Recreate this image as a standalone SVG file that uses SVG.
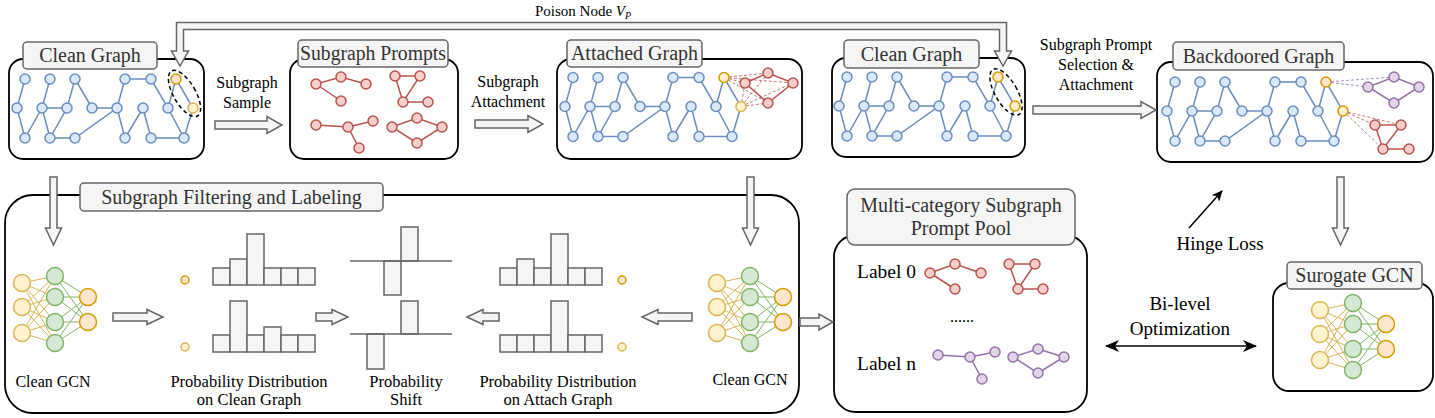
<svg xmlns="http://www.w3.org/2000/svg" xmlns:xlink="http://www.w3.org/1999/xlink" width="1435" height="418" viewBox="0 0 1435 418">
<style>
.box{fill:#fff;stroke:#000;stroke-width:1.8}
.tb{fill:#f5f5f5;stroke:#666;stroke-width:1.5}
.tt{font-family:"Liberation Serif",serif;font-size:20px;fill:#333;text-anchor:middle}
.lb{font-family:"Liberation Serif",serif;font-size:16px;fill:#000;text-anchor:middle}
.ge{stroke:#6c8ebf;stroke-width:1.5;fill:none}
.gn{fill:#dae8fc;stroke:#6c8ebf;stroke-width:1.5}
.re{stroke:#b85450;stroke-width:1.5;fill:none}
.rn{fill:#f8cecc;stroke:#b85450;stroke-width:1.5}
.pe{stroke:#9673a6;stroke-width:1.5;fill:none}
.pn{fill:#e1d5e7;stroke:#9673a6;stroke-width:1.5}
.on{fill:#ffe6cc;stroke:#d79b00;stroke-width:1.5}
.yn{fill:#fff2cc;stroke:#d6b656;stroke-width:1.5}
.yo{fill:#fff2cc;stroke:#d79b00;stroke-width:1.5}
.hn{fill:#d5e8d4;stroke:#82b366;stroke-width:1.5}
.flex{fill:#f5f5f5;stroke:#666;stroke-width:1.5}
.bar{fill:#f5f5f5;stroke:#666;stroke-width:1.5}
.ye{stroke:#d6b656;stroke-width:1}
.gre{stroke:#82b366;stroke-width:1}
.rd{stroke:#b85450;stroke-width:0.8;stroke-dasharray:3 2;fill:none}
.pd{stroke:#9673a6;stroke-width:0.8;stroke-dasharray:3 2;fill:none}
.el{fill:none;stroke:#000;stroke-width:1.5;stroke-dasharray:4 3}
</style>
<defs>
<marker id="ah" viewBox="0 0 14 12" refX="13" refY="6" markerWidth="14" markerHeight="12" markerUnits="userSpaceOnUse" orient="auto-start-reverse"><path d="M0,0 L14,6 L0,12 L4,6 Z" fill="#000"/></marker>
<marker id="ah2" viewBox="0 0 11 10" refX="10" refY="5" markerWidth="11" markerHeight="10" markerUnits="userSpaceOnUse" orient="auto"><path d="M0,0 L11,5 L0,10 L3,5 Z" fill="#000"/></marker>
<g id="graph">
<path class="ge" d="M25 79L17 108L25 138L42 108M50 79L42 108L67 108M42 108L50 138L67 108L75 79L92 108L117 108M50 138L75 138L117 108L125 79L151 79M117 108L125 138L143 108L151 138L184 138M151 79L168 108L184 138M168 108L176 79L193 108L184 138"/>
<g class="gn">
<circle cx="25" cy="79" r="5"/><circle cx="50" cy="79" r="5"/><circle cx="75" cy="79" r="5"/><circle cx="125" cy="79" r="5"/><circle cx="151" cy="79" r="5"/>
<circle cx="17" cy="108" r="5"/><circle cx="42" cy="108" r="5"/><circle cx="67" cy="108" r="5"/><circle cx="92" cy="108" r="5"/><circle cx="117" cy="108" r="5"/><circle cx="143" cy="108" r="5"/><circle cx="168" cy="108" r="5"/>
<circle cx="25" cy="138" r="5"/><circle cx="50" cy="138" r="5"/><circle cx="75" cy="138" r="5"/><circle cx="125" cy="138" r="5"/><circle cx="151" cy="138" r="5"/><circle cx="184" cy="138" r="5"/>
</g>
</g>
<g id="gcn">
<g class="ye">
<line x1="22" y1="283" x2="55" y2="276"/><line x1="22" y1="283" x2="55" y2="297"/><line x1="22" y1="283" x2="55" y2="322"/><line x1="22" y1="283" x2="55" y2="343"/>
<line x1="22" y1="307" x2="55" y2="276"/><line x1="22" y1="307" x2="55" y2="297"/><line x1="22" y1="307" x2="55" y2="322"/><line x1="22" y1="307" x2="55" y2="343"/>
<line x1="22" y1="333" x2="55" y2="276"/><line x1="22" y1="333" x2="55" y2="297"/><line x1="22" y1="333" x2="55" y2="322"/><line x1="22" y1="333" x2="55" y2="343"/>
</g>
<g class="gre">
<line x1="55" y1="276" x2="88" y2="297"/><line x1="55" y1="276" x2="88" y2="322"/>
<line x1="55" y1="297" x2="88" y2="297"/><line x1="55" y1="297" x2="88" y2="322"/>
<line x1="55" y1="322" x2="88" y2="297"/><line x1="55" y1="322" x2="88" y2="322"/>
<line x1="55" y1="343" x2="88" y2="297"/><line x1="55" y1="343" x2="88" y2="322"/>
</g>
<g class="yn"><circle cx="22" cy="283" r="8.5"/><circle cx="22" cy="307" r="8.5"/><circle cx="22" cy="333" r="8.5"/></g>
<g class="hn"><circle cx="55" cy="276" r="8.5"/><circle cx="55" cy="297" r="8.5"/><circle cx="55" cy="322" r="8.5"/><circle cx="55" cy="343" r="8.5"/></g>
<g class="on"><circle cx="88" cy="297" r="8.5"/><circle cx="88" cy="322" r="8.5"/></g>
</g>
</defs>
<rect width="1435" height="418" fill="#fff"/>

<text x="535" y="16" font-family="Liberation Serif, serif" font-size="15" fill="#000">Poison Node <tspan font-style="italic">V</tspan><tspan font-style="italic" font-size="10" dy="3">P</tspan></text>
<text class="lb" x="247" y="88">Subgraph</text><text class="lb" x="247" y="108">Sample</text>
<text class="lb" x="508" y="87">Subgraph</text><text class="lb" x="508" y="107">Attachment</text>
<text class="lb" x="1096" y="50">Subgraph Prompt</text><text class="lb" x="1096" y="70">Selection &amp;</text><text class="lb" x="1096" y="90">Attachment</text>
<text class="lb" x="1220" y="250" style="font-size:19px">Hinge Loss</text>
<text class="lb" x="1180" y="310" style="font-size:19px">Bi-level</text>
<text class="lb" x="1180" y="335" style="font-size:19px">Optimization</text>

<g id="clean-graph-1">
<rect class="box" x="9" y="59" width="195" height="100" rx="14"/>
<use href="#graph" xlink:href="#graph"/>
<circle class="on" cx="176" cy="79" r="5"/><circle class="yn" cx="193" cy="108" r="5"/>
<ellipse class="el" cx="184.5" cy="93.5" rx="11" ry="26" transform="rotate(-30 184.5 93.5)"/>
<rect class="tb" x="23" y="42" width="134" height="27" rx="4"/>
<text class="tt" x="90" y="62">Clean Graph</text>
</g>

<g id="subgraph-prompts">
<rect class="box" x="290" y="59" width="168" height="100" rx="14"/>
<path class="re" d="M316 84L341 77L366 84M316 84L341 101M395 76L420 76L403 102L395 76M403 102L428 102M316 125L348 127L373 121M348 127L359 148M392 127L417 118L442 127L417 143Z"/>
<g class="rn">
<circle cx="316" cy="84" r="5"/><circle cx="341" cy="77" r="5"/><circle cx="366" cy="84" r="5"/><circle cx="341" cy="101" r="5"/>
<circle cx="395" cy="76" r="5"/><circle cx="420" cy="76" r="5"/><circle cx="403" cy="102" r="5"/><circle cx="428" cy="102" r="5"/>
<circle cx="316" cy="125" r="5"/><circle cx="348" cy="127" r="5"/><circle cx="373" cy="121" r="5"/><circle cx="359" cy="148" r="5"/>
<circle cx="392" cy="127" r="5"/><circle cx="417" cy="118" r="5"/><circle cx="442" cy="127" r="5"/><circle cx="417" cy="143" r="5"/>
</g>
<rect class="tb" x="298" y="40" width="150" height="27" rx="4"/>
<text class="tt" x="373" y="60" textLength="146" lengthAdjust="spacingAndGlyphs">Subgraph Prompts</text>
</g>

<g id="attached-graph">
<rect class="box" x="557" y="59" width="245" height="100" rx="14"/>
<use href="#graph" xlink:href="#graph" transform="translate(548,-1.5)"/>
<path class="rd" d="M724 77.5L745 83M724 77.5L768 73M724 77.5L793 83M724 77.5L768 103M741 106.5L745 83M741 106.5L768 73M741 106.5L793 83M741 106.5L768 103"/>
<path class="re" d="M745 83L768 73L793 83L768 103Z"/>
<g class="rn"><circle cx="745" cy="83" r="5"/><circle cx="768" cy="73" r="5"/><circle cx="793" cy="83" r="5"/><circle cx="768" cy="103" r="5"/></g>
<circle class="yo" cx="724" cy="77.5" r="5"/><circle class="yn" cx="741" cy="106.5" r="5"/>
<rect class="tb" x="567" y="40" width="135" height="27" rx="4"/>
<text class="tt" x="634.5" y="60">Attached Graph</text>
</g>

<g id="clean-graph-2">
<rect class="box" x="832" y="58" width="193" height="99" rx="14"/>
<use href="#graph" xlink:href="#graph" transform="translate(822,-2)"/>
<circle class="on" cx="998" cy="77" r="5"/><circle class="yo" cx="1015" cy="106" r="5"/>
<ellipse class="el" cx="1006" cy="92" rx="11" ry="26" transform="rotate(-30 1006 92)"/>
<rect class="tb" x="844" y="40" width="135" height="28" rx="4"/>
<text class="tt" x="911.5" y="61">Clean Graph</text>
</g>

<g id="backdoored-graph">
<rect class="box" x="1157" y="62" width="276" height="100" rx="14"/>
<use href="#graph" xlink:href="#graph" transform="translate(1150,3)"/>
<path class="pd" d="M1326 82L1394 77M1326 82L1368 87"/>
<path class="rd" d="M1343 111L1375 125M1343 111L1401 125M1343 111L1383 149"/>
<path class="pe" d="M1368 87L1394 77L1419 87L1394 103Z"/>
<path class="re" d="M1375 125L1401 125L1383 149L1375 125M1383 149L1409 149"/>
<g class="pn"><circle cx="1368" cy="87" r="5"/><circle cx="1394" cy="77" r="5"/><circle cx="1419" cy="87" r="5"/><circle cx="1394" cy="103" r="5"/></g>
<g class="rn"><circle cx="1375" cy="125" r="5"/><circle cx="1401" cy="125" r="5"/><circle cx="1383" cy="149" r="5"/><circle cx="1409" cy="149" r="5"/></g>
<circle class="on" cx="1326" cy="82" r="5"/><circle class="yo" cx="1343" cy="111" r="5"/>
<rect class="tb" x="1173" y="42" width="171" height="28" rx="4"/>
<text class="tt" x="1258.5" y="63">Backdoored Graph</text>
</g>

<g id="filtering-labeling">
<rect class="box" x="5" y="195" width="794" height="218" rx="28"/>
<rect class="tb" x="80" y="183" width="303" height="28" rx="4"/>
<text class="tt" x="231.5" y="204">Subgraph Filtering and Labeling</text>
<polygon class="flex" points="113,313 147,313 147,309.5 163,317 147,324.5 147,321 113,321"/>
<polygon class="flex" points="316,313 332,313 332,309.5 348,317 332,324.5 332,321 316,321"/>
<polygon class="flex" points="499,313 483,313 483,309.5 467,317 483,324.5 483,321 499,321"/>
<polygon class="flex" points="692,313 658,313 658,309.5 642,317 658,324.5 658,321 692,321"/>
</g>

<g id="clean-gcn-left">
<use href="#gcn" xlink:href="#gcn"/>
<text class="lb" x="53" y="387">Clean GCN</text>
</g>

<g id="prob-clean">
<circle class="on" cx="185" cy="280" r="4"/><circle class="yn" cx="185" cy="347" r="4"/>
<g class="bar">
<rect x="213" y="268" width="17" height="17"/><rect x="230" y="259" width="17" height="26"/><rect x="247" y="234" width="17" height="51"/><rect x="264" y="268" width="17" height="17"/><rect x="281" y="268" width="17" height="17"/><rect x="298" y="268" width="17" height="17"/>
<rect x="213" y="335" width="17" height="17"/><rect x="230" y="301" width="17" height="51"/><rect x="247" y="335" width="17" height="17"/><rect x="264" y="327" width="17" height="25"/><rect x="281" y="335" width="17" height="17"/><rect x="298" y="335" width="17" height="17"/>
</g>
<text class="lb" x="249" y="387" style="font-size:16.5px">Probability Distribution</text>
<text class="lb" x="249" y="405" style="font-size:16.5px">on Clean Graph</text>
</g>

<g id="prob-shift">
<g class="bar">
<rect x="384" y="261" width="17" height="34"/><rect x="401" y="227" width="17" height="34"/>
<rect x="367" y="334" width="17" height="35"/><rect x="401" y="301" width="17" height="33"/>
</g>
<line x1="350" y1="261" x2="452" y2="261" stroke="#666" stroke-width="1.5"/>
<line x1="350" y1="334" x2="452" y2="334" stroke="#666" stroke-width="1.5"/>
<text class="lb" x="406" y="387" style="font-size:16.5px">Probability</text>
<text class="lb" x="406" y="405" style="font-size:16.5px">Shift</text>
</g>

<g id="prob-attach">
<g class="bar">
<rect x="500" y="268" width="17" height="17"/><rect x="517" y="259" width="17" height="26"/><rect x="534" y="268" width="17" height="17"/><rect x="551" y="234" width="17" height="51"/><rect x="568" y="268" width="17" height="17"/><rect x="585" y="268" width="17" height="17"/>
<rect x="500" y="335" width="17" height="17"/><rect x="517" y="335" width="17" height="17"/><rect x="534" y="335" width="17" height="17"/><rect x="551" y="301" width="17" height="51"/><rect x="568" y="335" width="17" height="17"/><rect x="585" y="335" width="17" height="17"/>
</g>
<circle class="on" cx="622" cy="280" r="4"/><circle class="yn" cx="622" cy="347" r="4"/>
<text class="lb" x="558" y="387" style="font-size:16.5px">Probability Distribution</text>
<text class="lb" x="558" y="405" style="font-size:16.5px">on Attach Graph</text>
</g>

<g id="clean-gcn-right">
<use href="#gcn" xlink:href="#gcn" transform="translate(695,0)"/>
<text class="lb" x="750" y="385">Clean GCN</text>
</g>

<g id="prompt-pool">
<rect class="box" x="834" y="235" width="253" height="177" rx="22"/>
<rect class="tb" x="847" y="189" width="228" height="56" rx="8"/>
<text class="tt" x="961" y="212">Multi-category Subgraph</text>
<text class="tt" x="961" y="235">Prompt Pool</text>
<text x="857" y="278" font-family="Liberation Serif, serif" font-size="19.5" fill="#000">Label 0</text>
<text x="857" y="370" font-family="Liberation Serif, serif" font-size="19.5" fill="#000">Label n</text>
<text class="lb" x="962" y="322">......</text>
<path class="re" d="M930 273L955 264L981 273M930 273L955 289M1009 264L1035 264L1018 289L1009 264M1018 289L1043 289"/>
<path class="pe" d="M938 355L970 357L995 352M970 357L982 379M1013 357L1038 349L1064 357L1038 373Z"/>
<g class="rn">
<circle cx="930" cy="273" r="5"/><circle cx="955" cy="264" r="5"/><circle cx="981" cy="273" r="5"/><circle cx="955" cy="289" r="5"/>
<circle cx="1009" cy="264" r="5"/><circle cx="1035" cy="264" r="5"/><circle cx="1018" cy="289" r="5"/><circle cx="1043" cy="289" r="5"/>
</g>
<g class="pn">
<circle cx="938" cy="355" r="5"/><circle cx="970" cy="357" r="5"/><circle cx="995" cy="352" r="5"/><circle cx="982" cy="379" r="5"/>
<circle cx="1013" cy="357" r="5"/><circle cx="1038" cy="349" r="5"/><circle cx="1064" cy="357" r="5"/><circle cx="1038" cy="373" r="5"/>
</g>
</g>

<g id="surrogate-gcn">
<rect class="box" x="1273" y="283" width="160" height="108" rx="16"/>
<use href="#gcn" xlink:href="#gcn" transform="translate(1298,27)"/>
<rect class="tb" x="1287" y="262" width="135" height="27" rx="4"/>
<text class="tt" x="1354.5" y="282">Surogate GCN</text>
</g>

<g id="connectors">
<polygon class="flex" points="176.5,51 171.5,51 180,66 188.5,51 183.5,51 183.5,29.5 999.5,29.5 999.5,51 994.5,51 1003,66 1011.5,51 1006.5,51 1006.5,22.5 176.5,22.5"/>
<polygon class="flex" points="215,121 267,121 267,116.5 282,125 267,133.5 267,129 215,129"/>
<polygon class="flex" points="475,120 528,120 528,115.5 543,124 528,132.5 528,128 475,128"/>
<polygon class="flex" points="1033,106 1141,106 1141,101.5 1156,110 1141,118.5 1141,114 1033,114"/>
<polygon class="flex" points="50,177 57,177 57,228 61.5,228 53.5,245 45.5,228 50,228"/>
<polygon class="flex" points="747,177 754,177 754,228 758.5,228 750.5,245 742.5,228 747,228"/>
<polygon class="flex" points="1337,177 1344,177 1344,228 1348.5,228 1340.5,245 1332.5,228 1337,228"/>
<polygon class="flex" points="800,318 819,318 819,314 833,322 819,330 819,326 800,326"/>
<line x1="1189" y1="228" x2="1222" y2="191" stroke="#000" stroke-width="1.5" marker-end="url(#ah2)"/>
<line x1="1106" y1="346" x2="1256" y2="346" stroke="#000" stroke-width="1.5" marker-start="url(#ah)" marker-end="url(#ah)"/>
</g>
</svg>
